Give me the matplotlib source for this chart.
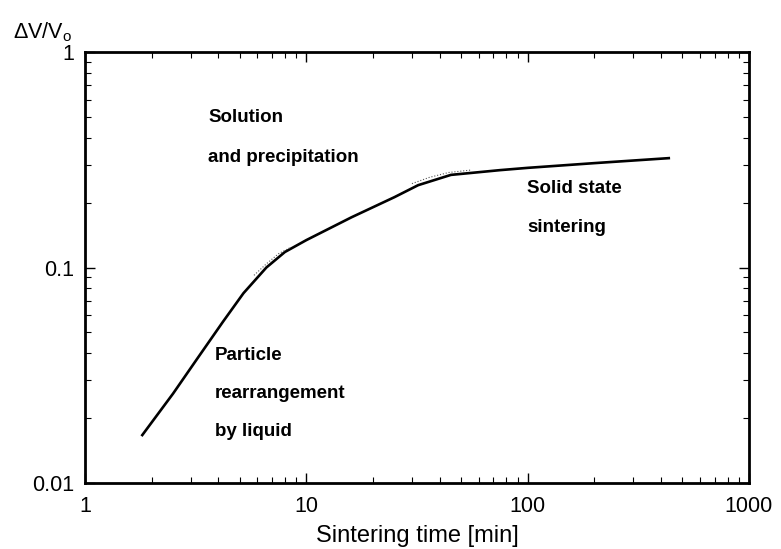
import matplotlib
matplotlib.use("Agg")
import matplotlib.pyplot as plt
from matplotlib.ticker import LogLocator, NullFormatter, FixedLocator, FixedFormatter

plt.rcParams['font.family'] = ['Liberation Sans', 'DejaVu Sans']

# data
time_min = [1.8, 2.5, 3.2, 4.2, 5.2, 6.6, 8.0, 10.0, 16.0, 25.0, 32.0, 45.0, 75.0, 100.0, 200.0, 440.0]
dv_v0 = [0.0165, 0.026, 0.0375, 0.056, 0.076, 0.100, 0.118, 0.134, 0.171, 0.212, 0.241, 0.269, 0.283, 0.290, 0.305, 0.322]
dot_time = [5.8, 6.6, 7.5, 8.5]
dot_vals = [0.092, 0.104, 0.116, 0.124]
dot2_time = [30.0, 36.0, 44.0, 55.0]
dot2_vals = [0.245, 0.262, 0.276, 0.283]

x_ticks = [1, 10, 100, 1000]
x_labels = ['1', '10', '100', '1000']
y_ticks = [0.01, 0.1, 1]
y_labels = ['0.01', '0.1', '1']

W, H = 781, 549
fig = plt.figure(figsize=(W/100, H/100), dpi=100)
ax = fig.add_axes([85/W, (H-483)/H, 664/W, 431/H])

ax.plot(time_min, dv_v0, color='black', lw=1.9, solid_capstyle='butt')
ax.plot(dot_time, dot_vals, color='#555555', lw=0.8, ls=':')
ax.plot(dot2_time, dot2_vals, color='#555555', lw=0.8, ls=':')

ax.set_xscale('log')
ax.set_yscale('log')
ax.set_xlim(1, 1000)
ax.set_ylim(0.01, 1)
ax.xaxis.set_major_locator(FixedLocator(x_ticks))
ax.xaxis.set_major_formatter(FixedFormatter(x_labels))
ax.yaxis.set_major_locator(FixedLocator(y_ticks))
ax.yaxis.set_major_formatter(FixedFormatter(y_labels))
ax.xaxis.set_minor_locator(LogLocator(base=10, subs=range(2, 10)))
ax.yaxis.set_minor_locator(LogLocator(base=10, subs=range(2, 10)))
ax.xaxis.set_minor_formatter(NullFormatter())
ax.yaxis.set_minor_formatter(NullFormatter())

ax.tick_params(which='both', direction='in', top=True, right=True, color='black')
ax.tick_params(which='major', length=7, width=1.0, labelsize=15.5)
ax.tick_params(axis='x', which='major', pad=9)
ax.tick_params(axis='y', which='major', pad=8)
ax.tick_params(which='minor', length=4, width=0.8)
for s in ax.spines.values():
    s.set_linewidth(2.0)

ax.set_xlabel('Sintering time [min]', fontsize=17, labelpad=6)

def ftext(x, y, s, **kw):
    fig.text(x/W, 1 - y/H, s, **kw)

ftext(13, 32, 'ΔV/V$_\\mathregular{o}$', fontsize=15.5, va='center', ha='left')

ann = dict(fontsize=13.5, fontweight='bold', va='center', ha='left')
ftext(208, 118, 'Solution', **ann)
ftext(208, 158, 'and precipitation', **ann)
ftext(527, 189, 'Solid state', **ann)
ftext(527, 227, 'sintering', **ann)
ftext(215, 355, 'Particle', **ann)
ftext(215, 393, 'rearrangement', **ann)
ftext(215, 432, 'by liquid', **ann)

fig.savefig('out.png', dpi=100)
